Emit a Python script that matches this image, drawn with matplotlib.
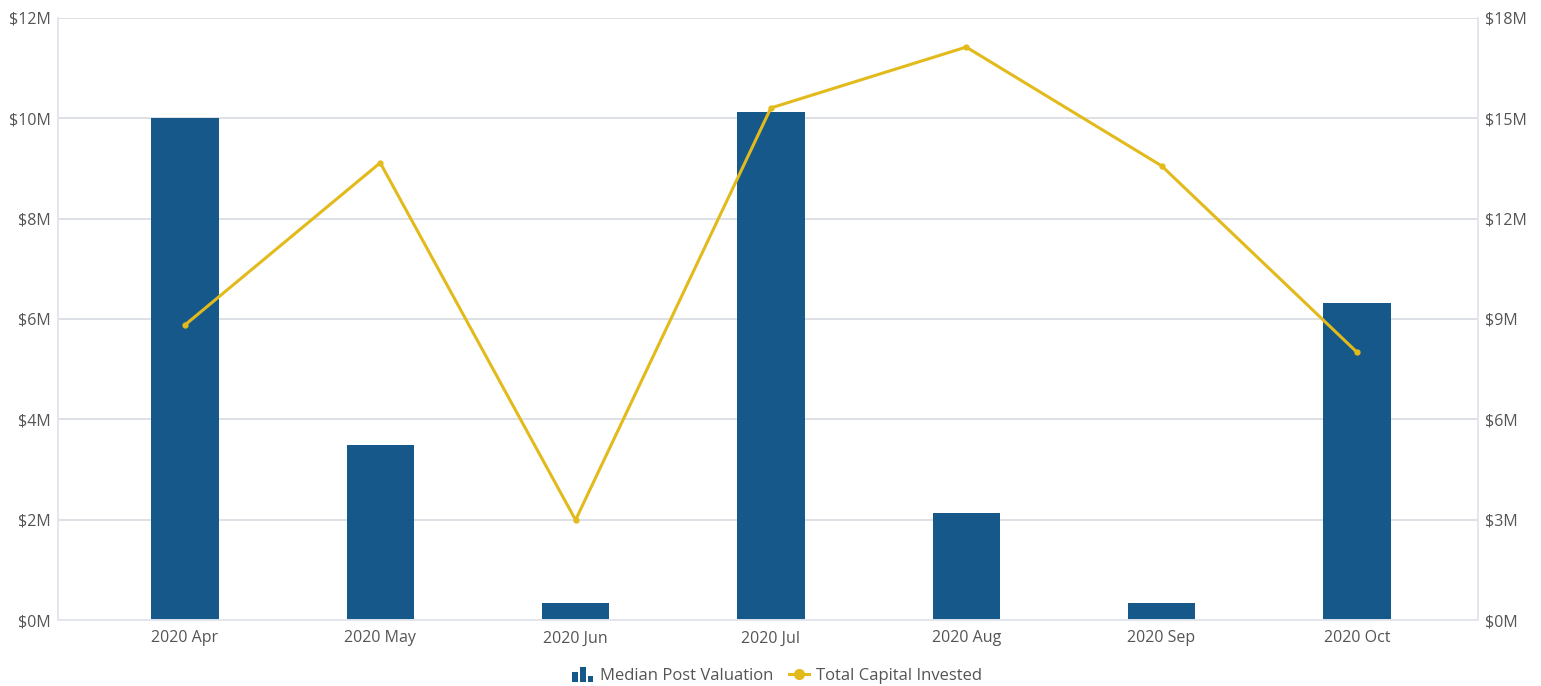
import matplotlib.pyplot as plt
from matplotlib.legend_handler import HandlerBase
from matplotlib.lines import Line2D
from matplotlib.patches import Rectangle
from matplotlib.ticker import FuncFormatter, MultipleLocator
import numpy as np

months = ['2020 Apr', '2020 May', '2020 Jun', '2020 Jul', '2020 Aug', '2020 Sep', '2020 Oct']
median_post_valuation = [10.0, 3.49, 0.34, 10.12, 2.13, 0.34, 6.31]   # $M
total_capital_invested = [8.82, 13.67, 2.99, 15.31, 17.13, 13.58, 8.01]  # $M

bar_color = '#17588A'
line_color = '#E2BA1B'
grid_color = '#D7DBE2'
text_color = '#555555'

plt.rcParams['font.family'] = ['Open Sans', 'DejaVu Sans']
plt.rcParams['font.size'] = 11.5


class BarIconHandler(HandlerBase):
    # three small bars, like a column-chart icon
    def create_artists(self, legend, orig_handle, xdescent, ydescent,
                       width, height, fontsize, trans):
        w = 4.0
        gap = 1.6
        heights = [0.85, 1.3, 0.5]
        x0 = width / 2 - (3 * w + 2 * gap) / 2
        arts = []
        for k, h in enumerate(heights):
            r = Rectangle((x0 + k * (w + gap) - xdescent, -ydescent - 1.5), w, height * h,
                          facecolor=bar_color, edgecolor='none', transform=trans)
            arts.append(r)
        return arts


fig = plt.figure(figsize=(15.41, 6.86), dpi=100)
ax = fig.add_axes([0.0376, 0.0962, 0.9215, 0.8776])
ax2 = ax.twinx()

x = np.arange(len(months))
ax.bar(x, median_post_valuation, width=0.345, color=bar_color, zorder=2)
ax2.plot(x, total_capital_invested, color=line_color, lw=2.2, marker='o', ms=3.5, zorder=3)

ax.set_xlim(-0.65, 6.62)
ax.set_ylim(0, 12)
ax2.set_ylim(0, 18)
ax.yaxis.set_major_locator(MultipleLocator(2))
ax2.yaxis.set_major_locator(MultipleLocator(3))
money = FuncFormatter(lambda v, p: f'${v:.0f}M')
ax.yaxis.set_major_formatter(money)
ax2.yaxis.set_major_formatter(money)

ax.set_xticks(x)
ax.set_xticklabels(months)
ax.grid(axis='y', color=grid_color, lw=1.2, zorder=0)
ax.set_axisbelow(True)

for a in (ax, ax2):
    a.tick_params(length=0, colors=text_color, labelsize=11.5)
    for s in a.spines.values():
        s.set_color('#E3E7ED')
        s.set_linewidth(1.2)
    a.spines['top'].set_visible(False)
ax.tick_params(axis='x', pad=7.5)
ax.tick_params(axis='y', pad=5)
ax2.tick_params(axis='y', pad=5)

# bring line axes above bar axes
ax2.set_zorder(ax.get_zorder() + 1)
ax.patch.set_visible(False)

handles = [Rectangle((0, 0), 1, 1),
           Line2D([], [], color=line_color, lw=2.2, marker='o', ms=7)]
labels = ['Median Post Valuation', 'Total Capital Invested']
fig.legend(handles, labels, loc='center', bbox_to_anchor=(0.5045, 0.0145),
           ncol=2, frameon=False, fontsize=12, labelcolor=text_color,
           handlelength=1.2, handletextpad=0.45, columnspacing=0.9,
           handler_map={Rectangle: BarIconHandler()})

fig.savefig('out.png', dpi=100)
